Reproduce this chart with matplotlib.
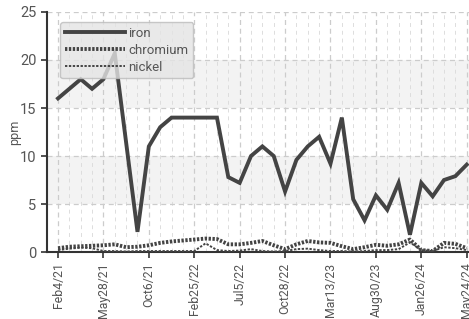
import matplotlib
matplotlib.use("Agg")
import matplotlib.pyplot as plt
from matplotlib.ticker import MultipleLocator

plt.rcParams['font.family'] = ['Roboto', 'DejaVu Sans']

tick_labels = ["Feb4/21", "May28/21", "Oct6/21", "Feb25/22", "Jul5/22",
               "Oct28/22", "Mar13/23", "Aug30/23", "Jan26/24", "May24/24"]

iron = [16, 17, 18, 17, 18, 20.7, 11.4, 2.1, 11, 13, 14, 14, 14, 14, 14, 7.8, 7.2,
        10, 11, 10, 6.3, 9.6, 11, 12, 9.2, 14, 5.5, 3.3, 5.9, 4.4, 7.2, 1.8, 7.2,
        5.8, 7.5, 7.9, 9.1]
chromium = [0.4, 0.55, 0.6, 0.65, 0.7, 0.8, 0.5, 0.55, 0.7, 0.95, 1.1, 1.2, 1.3,
            1.4, 1.35, 0.8, 0.8, 0.95, 1.15, 0.7, 0.3, 0.8, 1.15, 1.0, 0.95, 0.6,
            0.3, 0.5, 0.75, 0.65, 0.8, 1.3, 0.2, 0.1, 0.95, 0.85, 0.4]
nickel = [0.2, 0.35, 0.45, 0.4, 0.1, 0.1, 0.05, 0.1, 0.1, 0.1, 0.1, 0.1, 0.1,
          0.9, 0.2, 0.1, 0.15, 0.3, 0.1, 0.05, 0.1, 0.3, 0.35, 0.2, 0.1, 0.1,
          0.05, 0.1, 0.2, 0.2, 0.3, 1.0, 0.2, 0.1, 0.5, 0.4, 0.2]

x = list(range(len(iron)))

fig = plt.figure(figsize=(4.69, 3.19), dpi=100)
ax = fig.add_axes([0.1002, 0.21, 0.8998, 0.7524])

# alternating background bands
for lo in (5, 15):
    ax.axhspan(lo, lo + 5, color='#f3f3f3', zorder=0, lw=0)

col = '#444444'
ax.plot(x, iron, color=col, lw=2.8, solid_joinstyle='miter', label='iron', zorder=3)
ax.plot(x, chromium, color=col, lw=2.8, ls=(0, (0.6, 0.4)), label='chromium', zorder=3)
ax.plot(x, nickel, color=col, lw=1.4, ls=(0, (1.2, 0.8)), label='nickel', zorder=3)

ax.set_xlim(-0.97, 36.2)
ax.set_ylim(0, 25)
ax.set_xticks(range(0, 37, 4))
ax.set_xticklabels(tick_labels, rotation=90)
ax.xaxis.set_minor_locator(MultipleLocator(1))
ax.set_yticks([0, 5, 10, 15, 20, 25])

ax.grid(which='major', color='#cccccc', ls=(0, (4, 3)), lw=0.9)
ax.grid(which='minor', axis='x', color='#dddddd', ls=(0, (4, 4)), lw=0.7)

for s in ('top', 'right'):
    ax.spines[s].set_visible(False)
ax.spines['left'].set_color('#333333')
ax.spines['left'].set_linewidth(1.5)
ax.spines['bottom'].set_color('#333333')
ax.spines['bottom'].set_linewidth(1.5)

ax.tick_params(axis='both', which='major', colors='#333333', labelcolor='#555555',
               labelsize=8.8, length=4, width=1.2)
ax.tick_params(axis='both', which='minor', length=0)
ax.tick_params(axis='y', labelsize=10.5)

ax.set_ylabel('ppm', color='#555555', fontsize=9)
ax.yaxis.set_label_coords(-0.062, 0.5)

leg = ax.legend(loc='upper left', bbox_to_anchor=(0.015, 0.985), fontsize=9.5,
                handlelength=4.6, handletextpad=0.25, labelspacing=0.3,
                fancybox=True, framealpha=0.8, facecolor='#e4e4e4',
                edgecolor='#bbbbbb', borderpad=0.35)
for t in leg.get_texts():
    t.set_color('#555555')

fig.savefig('out.png', dpi=100)
